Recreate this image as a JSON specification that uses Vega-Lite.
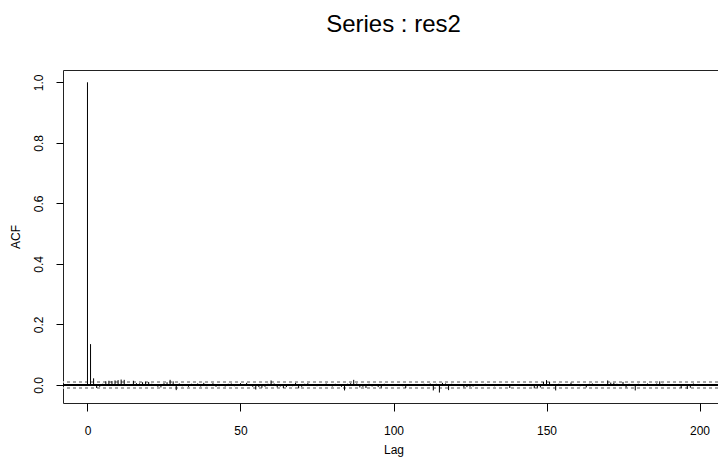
{
  "$schema": "https://vega.github.io/schema/vega-lite/v6.json",
  "autosize": {"type": "none"},
  "width": 661,
  "height": 333,
  "padding": {"left": 63, "top": 70, "right": 0, "bottom": 59},
  "background": "white",
  "title": {"text": "Series : res2", "font": "Liberation Sans", "fontSize": 24, "fontWeight": "normal", "color": "black", "offset": 33, "anchor": "middle"},
  "config": {
    "view": {"stroke": "#222", "strokeWidth": 1},
    "axis": {"grid": false, "domain": false, "tickColor": "black", "labelColor": "black", "titleColor": "black", "labelFont": "Liberation Sans", "titleFont": "Liberation Sans", "labelFontSize": 12, "titleFontSize": 12, "titleFontWeight": "normal"}
  },
  "data": {"values": [
    {"lag":0,"acf":1.0},{"lag":1,"acf":0.135},{"lag":2,"acf":0.022},{"lag":3,"acf":-0.010},{"lag":4,"acf":-0.006},
    {"lag":5,"acf":0.004},{"lag":6,"acf":0.012},{"lag":7,"acf":0.014},{"lag":8,"acf":0.013},{"lag":9,"acf":0.015},
    {"lag":10,"acf":0.016},{"lag":11,"acf":0.018},{"lag":12,"acf":0.017},{"lag":13,"acf":0.003},{"lag":14,"acf":-0.002},
    {"lag":15,"acf":0.014},{"lag":16,"acf":0.006},{"lag":17,"acf":0.005},{"lag":18,"acf":0.009},{"lag":19,"acf":0.011},
    {"lag":20,"acf":0.010},{"lag":21,"acf":0.004},{"lag":22,"acf":0.003},{"lag":23,"acf":-0.006},{"lag":24,"acf":-0.008},
    {"lag":25,"acf":0.006},{"lag":26,"acf":0.009},{"lag":27,"acf":0.017},{"lag":28,"acf":0.012},{"lag":29,"acf":-0.017},
    {"lag":30,"acf":0.005},{"lag":31,"acf":-0.004},{"lag":32,"acf":0.003},{"lag":33,"acf":-0.006},{"lag":34,"acf":0.004},
    {"lag":35,"acf":-0.003},{"lag":36,"acf":0.005},{"lag":37,"acf":-0.005},{"lag":38,"acf":0.007},{"lag":39,"acf":-0.004},
    {"lag":40,"acf":-0.003},{"lag":41,"acf":0.006},{"lag":42,"acf":-0.006},{"lag":43,"acf":-0.004},{"lag":44,"acf":0.003},
    {"lag":45,"acf":-0.005},{"lag":46,"acf":0.004},{"lag":47,"acf":0.005},{"lag":48,"acf":-0.004},{"lag":49,"acf":0.002},
    {"lag":50,"acf":0.006},{"lag":51,"acf":-0.003},{"lag":52,"acf":0.007},{"lag":53,"acf":0.002},{"lag":54,"acf":-0.006},
    {"lag":55,"acf":-0.015},{"lag":56,"acf":-0.007},{"lag":57,"acf":-0.009},{"lag":58,"acf":-0.006},{"lag":59,"acf":0.004},
    {"lag":60,"acf":0.015},{"lag":61,"acf":0.005},{"lag":62,"acf":-0.008},{"lag":63,"acf":-0.005},{"lag":64,"acf":-0.010},
    {"lag":65,"acf":-0.007},{"lag":66,"acf":0.003},{"lag":67,"acf":-0.004},{"lag":68,"acf":0.007},{"lag":69,"acf":-0.011},
    {"lag":70,"acf":-0.006},{"lag":71,"acf":0.004},{"lag":72,"acf":0.006},{"lag":73,"acf":-0.003},{"lag":74,"acf":0.002},
    {"lag":75,"acf":-0.004},{"lag":76,"acf":0.003},{"lag":77,"acf":-0.002},{"lag":78,"acf":0.005},{"lag":79,"acf":0.002},
    {"lag":80,"acf":-0.005},{"lag":81,"acf":0.004},{"lag":82,"acf":0.003},{"lag":83,"acf":-0.006},{"lag":84,"acf":-0.018},
    {"lag":85,"acf":0.004},{"lag":86,"acf":0.006},{"lag":87,"acf":0.017},{"lag":88,"acf":0.005},{"lag":89,"acf":-0.008},
    {"lag":90,"acf":-0.006},{"lag":91,"acf":-0.010},{"lag":92,"acf":0.004},{"lag":93,"acf":-0.005},{"lag":94,"acf":0.003},
    {"lag":95,"acf":-0.007},{"lag":96,"acf":-0.009},{"lag":97,"acf":0.004},{"lag":98,"acf":-0.003},{"lag":99,"acf":0.002},
    {"lag":100,"acf":-0.003},{"lag":101,"acf":0.002},{"lag":102,"acf":-0.002},{"lag":103,"acf":-0.004},{"lag":104,"acf":-0.010},
    {"lag":105,"acf":0.002},{"lag":106,"acf":-0.003},{"lag":107,"acf":0.002},{"lag":108,"acf":0.003},{"lag":109,"acf":-0.002},
    {"lag":110,"acf":0.004},{"lag":111,"acf":0.003},{"lag":112,"acf":0.005},{"lag":113,"acf":-0.018},{"lag":114,"acf":0.004},
    {"lag":115,"acf":-0.025},{"lag":116,"acf":0.007},{"lag":117,"acf":0.005},{"lag":118,"acf":-0.017},{"lag":119,"acf":0.004},
    {"lag":120,"acf":-0.003},{"lag":121,"acf":0.003},{"lag":122,"acf":-0.002},{"lag":123,"acf":-0.008},{"lag":124,"acf":-0.007},
    {"lag":125,"acf":-0.006},{"lag":126,"acf":-0.005},{"lag":127,"acf":0.002},{"lag":128,"acf":-0.003},{"lag":129,"acf":0.002},
    {"lag":130,"acf":0.004},{"lag":131,"acf":-0.003},{"lag":132,"acf":0.002},{"lag":133,"acf":-0.004},{"lag":134,"acf":0.003},
    {"lag":135,"acf":-0.002},{"lag":136,"acf":0.002},{"lag":137,"acf":-0.003},{"lag":138,"acf":-0.010},{"lag":139,"acf":0.002},
    {"lag":140,"acf":-0.002},{"lag":141,"acf":0.003},{"lag":142,"acf":-0.003},{"lag":143,"acf":0.002},{"lag":144,"acf":-0.002},
    {"lag":145,"acf":-0.004},{"lag":146,"acf":-0.011},{"lag":147,"acf":-0.009},{"lag":148,"acf":-0.008},{"lag":149,"acf":0.010},
    {"lag":150,"acf":0.016},{"lag":151,"acf":0.010},{"lag":152,"acf":-0.003},{"lag":153,"acf":-0.018},{"lag":154,"acf":0.004},
    {"lag":155,"acf":-0.003},{"lag":156,"acf":0.002},{"lag":157,"acf":-0.002},{"lag":158,"acf":0.008},{"lag":159,"acf":-0.003},
    {"lag":160,"acf":0.003},{"lag":161,"acf":-0.004},{"lag":162,"acf":-0.002},{"lag":163,"acf":-0.008},{"lag":164,"acf":0.004},
    {"lag":165,"acf":0.005},{"lag":166,"acf":-0.003},{"lag":167,"acf":0.002},{"lag":168,"acf":-0.003},{"lag":169,"acf":0.003},
    {"lag":170,"acf":0.015},{"lag":171,"acf":0.008},{"lag":172,"acf":0.007},{"lag":173,"acf":0.004},{"lag":174,"acf":-0.003},
    {"lag":175,"acf":0.010},{"lag":176,"acf":-0.008},{"lag":177,"acf":0.004},{"lag":178,"acf":-0.003},{"lag":179,"acf":-0.018},
    {"lag":180,"acf":0.004},{"lag":181,"acf":-0.003},{"lag":182,"acf":0.002},{"lag":183,"acf":0.005},{"lag":184,"acf":-0.003},
    {"lag":185,"acf":0.003},{"lag":186,"acf":0.005},{"lag":187,"acf":0.012},{"lag":188,"acf":0.004},{"lag":189,"acf":-0.003},
    {"lag":190,"acf":0.002},{"lag":191,"acf":-0.003},{"lag":192,"acf":0.003},{"lag":193,"acf":-0.002},{"lag":194,"acf":-0.010},
    {"lag":195,"acf":0.003},{"lag":196,"acf":-0.013},{"lag":197,"acf":-0.009},{"lag":198,"acf":0.005},{"lag":199,"acf":0.003},
    {"lag":200,"acf":-0.003}
  ]},
  "layer": [
    {
      "mark": {"type": "rule", "color": "#a8a8a8", "strokeWidth": 1, "strokeDash": [3, 3]},
      "encoding": {"y": {"datum": 0.009, "type": "quantitative", "scale": {"domain": [-0.0595, 1.0406], "nice": false, "zero": false}}}
    },
    {
      "mark": {"type": "rule", "color": "#a8a8a8", "strokeWidth": 1, "strokeDash": [3, 3]},
      "encoding": {"y": {"datum": -0.009, "type": "quantitative"}}
    },
    {
      "mark": {"type": "rule", "color": "black", "strokeWidth": 1},
      "encoding": {"y": {"datum": 0, "type": "quantitative"}}
    },
    {
      "mark": {"type": "rule", "color": "black", "strokeWidth": 1},
      "encoding": {
        "x": {"field": "lag", "type": "quantitative", "title": "Lag",
              "scale": {"domain": [-8, 208], "nice": false, "zero": false},
              "axis": {"values": [0, 50, 100, 150, 200], "tickSize": 8, "labelPadding": 14, "titlePadding": 8, "labelFlush": false}},
        "y": {"field": "acf", "type": "quantitative", "title": "ACF",
              "scale": {"domain": [-0.0595, 1.0406], "nice": false, "zero": false},
              "axis": {"values": [0, 0.2, 0.4, 0.6, 0.8, 1.0], "format": ".1f", "tickSize": 7, "labelAngle": -90, "labelAlign": "center", "labelBaseline": "bottom", "labelPadding": 11, "titlePadding": 10, "labelFlush": false}},
        "y2": {"datum": 0}
      }
    }
  ]
}
